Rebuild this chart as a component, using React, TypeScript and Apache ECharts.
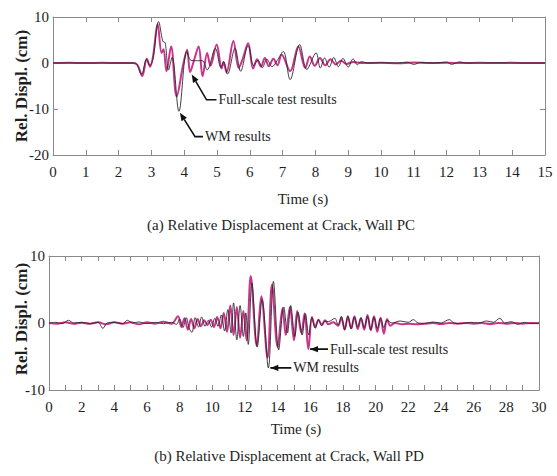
import React, { useEffect, useRef } from 'react';
import * as echarts from 'echarts';

// ---------- Data: (a) Wall PC, time (s) vs relative displacement (cm) ----------
const topWM: [number, number][] = [
  [0, 0], [0.5, 0], [1, 0], [1.5, 0], [2, 0], [2.45, 0], [2.55, -0.2], [2.7, -2.5], [2.85, 0.8], [2.95, -0.5],
  [3.05, 1.0], [3.22, 9.0], [3.35, 4.7], [3.42, 4.4], [3.52, -1.5], [3.63, 1.2], [3.84, -10.5], [4.08, 2.5],
  [4.2, 0.6], [4.35, 0.5], [4.55, 0.5], [4.7, -1.5], [4.95, 3.2], [5.12, -1.0], [5.2, 0.3], [5.32, -2.4],
  [5.55, 3.2], [5.72, -1.8], [5.95, 3.8], [6.12, -0.6], [6.25, 0.6], [6.38, -1.0], [6.52, 0.8], [6.68, -0.8],
  [6.83, 0.5], [7.02, 2.5], [7.23, -3.6], [7.52, 4.0], [7.74, -1.4], [8.02, 2.2], [8.15, -1.1], [8.28, 1.1],
  [8.42, -0.9], [8.56, 1.2], [8.7, -0.8], [8.84, 1.0], [9.0, -0.9], [9.15, 0.9], [9.28, -0.4], [9.4, 0.3],
  [9.6, 0], [10, 0.05], [10.5, 0], [10.8, 0.2], [11.0, -0.3], [11.2, 0.1], [11.6, 0], [12.0, 0.2],
  [12.15, -0.3], [12.4, 0.25], [12.6, 0], [13.0, 0], [13.5, 0.05], [14, 0], [14.5, 0], [15, 0],
];
const topTest: [number, number][] = [
  [0, 0], [0.5, 0.05], [1, 0], [1.5, 0.05], [2, 0], [2.45, 0], [2.58, -0.5], [2.72, -2.8], [2.86, 0.9],
  [2.96, -0.8], [3.05, 1.4], [3.19, 8.5], [3.31, 2.2], [3.37, 3.0], [3.46, -1.8], [3.6, 3.6], [3.77, -7.3],
  [3.97, -0.3], [4.09, 2.9], [4.18, -2.0], [4.3, 0.6], [4.44, 3.6], [4.56, -2.9], [4.7, 2.2], [4.8, -0.6],
  [4.99, 4.0], [5.14, -1.2], [5.2, 0.2], [5.29, -2.0], [5.5, 4.8], [5.66, -1.1], [5.78, 0.8], [5.95, 4.3],
  [6.1, -1.2], [6.22, 0.8], [6.34, -0.8], [6.46, 1.1], [6.58, -0.7], [6.72, 0.9], [6.84, -0.5], [6.97, 1.8],
  [7.23, -1.8], [7.48, 3.6], [7.69, -1.1], [7.83, 1.4], [7.98, -0.6], [8.14, 1.1], [8.3, -0.5], [8.46, 0.8],
  [8.62, -0.3], [8.78, 0.5], [8.95, -0.2], [9.15, 0.2], [9.4, 0], [10, 0.05], [10.5, -0.05], [11, 0.1],
  [11.5, 0], [12, 0.05], [12.5, 0], [13, 0.05], [13.5, 0], [14, 0.05], [14.5, 0], [15, 0],
];

// ---------- Data: (b) Wall PD ----------
const botWM: [number, number][] = [
  [0, 0], [0.4, 0.1], [0.8, -0.1], [1.2, 0.4], [1.5, 0], [2, 0.1], [2.5, -0.1], [3.0, 0.1], [3.3, -0.8],
  [3.55, 0], [4.0, 0.1], [4.5, -0.1], [4.8, 0.4], [5.1, 0], [5.5, 0.15], [6, -0.1], [6.5, 0.1], [7, -0.1],
  [7.5, 0.1], [7.8, -0.2], [8.0, 0.6], [8.2, -0.7], [8.4, 0.8], [8.6, -0.9], [8.75, -1.4], [8.95, 0.8],
  [9.15, -0.6], [9.35, 0.9], [9.55, -0.5], [9.75, 0.4], [9.95, -0.6], [10.15, 0.7], [10.35, -0.5], [10.55, 1.2],
  [10.75, -1.2], [10.95, 2.0], [11.15, -1.5], [11.3, 3.0], [11.5, -2.5], [11.7, 2.6], [11.9, -2.0], [12.05, 1.5],
  [12.2, -3.2], [12.42, 6.0], [12.75, -3.6], [13.05, 3.5], [13.43, -6.7], [13.74, 6.2], [14.06, -4.0],
  [14.37, 2.4], [14.6, -1.5], [14.8, 2.6], [15.05, -2.0], [15.25, 1.6], [15.5, -1.8], [15.7, 1.4], [15.9, -1.8],
  [16.1, 0.8], [16.3, -0.8], [16.5, 0.5], [16.7, -0.4], [16.9, 0.3], [17.1, 0.2], [17.5, 0.7], [17.7, -0.3],
  [17.9, 1.0], [18.1, -1.0], [18.3, 1.1], [18.5, -0.9], [18.7, 0.9], [18.9, -0.6], [19.1, 0.8], [19.3, -0.7],
  [19.5, 1.0], [19.7, -1.0], [19.9, 0.9], [20.1, -0.8], [20.3, 0.7], [20.5, -0.7], [20.7, 0.4], [21, 0],
  [21.5, 0.3], [22, 0.1], [22.3, 0.5], [22.6, 0], [23, -0.05], [23.5, 0.15], [24, 0], [24.5, 0.5], [24.8, 0],
  [25.3, -0.1], [25.8, 0.1], [26.3, 0], [26.8, 0.3], [27.2, 0.1], [27.6, 0.7], [27.9, 0], [28.3, 0.2],
  [28.7, -0.2], [29.1, 0.1], [29.5, -0.1], [30, 0],
];
const botTest: [number, number][] = [
  [0, 0], [0.5, -0.1], [1, 0.1], [1.5, -0.1], [2, 0.05], [2.5, -0.1], [3, 0.1], [3.5, -0.2], [4, 0.1],
  [4.5, -0.1], [5, 0.1], [5.5, -0.2], [6, 0.1], [6.5, -0.1], [7, 0.2], [7.5, -0.1], [7.9, 1.0], [8.1, -0.6],
  [8.3, 0.7], [8.5, -1.0], [8.7, 0.6], [8.9, -0.8], [9.1, 0.6], [9.3, -0.5], [9.5, 0.4], [9.7, -0.3], [9.9, 0.5],
  [10.1, -0.6], [10.3, 0.9], [10.5, -0.8], [10.7, 1.5], [10.9, -1.3], [11.1, 2.6], [11.3, -1.8], [11.5, 2.4],
  [11.7, -2.2], [11.9, 1.8], [12.1, -2.6], [12.35, 7.0], [12.72, -3.4], [13.0, 4.0], [13.38, -5.2], [13.65, 5.7],
  [14.0, -3.6], [14.3, 2.2], [14.5, -1.8], [14.75, 2.4], [15.0, -2.6], [15.2, 1.8], [15.45, -1.5], [15.65, 1.4],
  [15.88, -3.9], [16.1, 0.9], [16.3, -0.6], [16.5, 0.5], [16.7, -0.3], [16.9, 0.4], [17.1, -0.2], [17.4, 0.1],
  [17.7, -0.4], [17.9, 0.8], [18.1, -1.0], [18.3, 0.9], [18.5, -0.8], [18.7, 1.0], [18.9, -0.9], [19.1, 0.7],
  [19.3, -1.0], [19.5, 1.2], [19.7, -1.1], [19.9, 1.0], [20.1, -1.3], [20.3, 0.8], [20.5, -1.6], [20.7, 0.6],
  [20.9, -0.4], [21.2, 0], [21.6, -0.2], [22, -0.1], [22.5, -0.2], [23, -0.1], [23.5, 0], [24, -0.15],
  [24.5, 0], [25, -0.1], [25.5, 0], [26, -0.1], [26.5, 0], [27, -0.15], [27.5, 0], [28, -0.1], [28.5, 0],
  [29, -0.1], [29.5, 0], [30, -0.05],
];

const yTitle = 'Rel. Displ. (cm)';
const xTitle = 'Time (s)';
const captions = ['(a) Relative Displacement at Crack, Wall PC', '(b) Relative Displacement at Crack, Wall PD'];
const seriesNames = ['WM results', 'Full-scale test results'];

// annotation arrows: series index (for coordinates), arrow tip and elbow in data units
const notes = [
  { series: 1, tip: [4.23, -2.5], elbow: [4.68, -8.0], tail: 10, label: 'Full-scale test results' },
  { series: 0, tip: [3.87, -10.8], elbow: [4.33, -16.0], tail: 8, label: 'WM results' },
  { series: 3, tip: [15.98, -3.9], elbow: [15.98, -3.9], tail: 18, label: 'Full-scale test results' },
  { series: 2, tip: [13.55, -6.7], elbow: [13.55, -6.7], tail: 21, label: 'WM results' },
];

const FONT = "'Liberation Serif', 'Times New Roman', serif";
const FRAME = '#8a8a8a';
const TEXT = '#1e1e1e';
const WM_COLOR = '#2a2a2a';
const TEST_COLOR = '#c8348a';

function xAxes(grid: number, max: number, step: number, labelEvery: number) {
  const common = {
    gridIndex: grid, type: 'value' as const, min: 0, max, interval: step,
    splitLine: { show: false },
    axisLine: { show: true, onZero: false, lineStyle: { color: FRAME, width: 1 } },
    axisTick: { show: true, inside: true, length: 5, lineStyle: { color: FRAME, width: 1 } },
  };
  return [
    {
      ...common, position: 'bottom',
      axisLabel: {
        show: true, margin: 9, color: TEXT, fontSize: 15, fontFamily: FONT,
        formatter: (v: number) => (Math.round(v) % labelEvery === 0 ? String(v) : ''),
      },
    },
    { ...common, position: 'top', axisLabel: { show: false } },
  ];
}

function yAxes(grid: number, min: number, max: number) {
  const common = {
    gridIndex: grid, type: 'value' as const, min, max, interval: 10,
    splitLine: { show: false },
    axisLine: { show: true, onZero: false, lineStyle: { color: FRAME, width: 1 } },
    axisTick: { show: true, inside: true, length: 5, lineStyle: { color: FRAME, width: 1 } },
  };
  return [
    { ...common, position: 'left', axisLabel: { show: true, margin: 4, color: TEXT, fontSize: 15, fontFamily: FONT } },
    { ...common, position: 'right', axisLabel: { show: false } },
  ];
}

function lineSeries(name: string, data: [number, number][], axis: number, color: string, width: number, z: number) {
  return {
    name, type: 'line', data, xAxisIndex: axis, yAxisIndex: axis,
    showSymbol: false, symbol: 'none', smooth: 0.35, clip: true, z,
    lineStyle: { color, width },
  };
}

export default function App() {
  const ref = useRef<HTMLDivElement>(null);

  useEffect(() => {
    if (!ref.current) return;
    const chart = echarts.init(ref.current, undefined, { renderer: 'svg' });

    const option: any = {
      animation: false,
      backgroundColor: '#ffffff',
      grid: [
        { left: 53, right: 12, top: 17, height: 138 },
        { left: 49, right: 18, top: 256, height: 134 },
      ],
      xAxis: [...xAxes(0, 15, 1, 1), ...xAxes(1, 30, 1, 2)],
      yAxis: [...yAxes(0, -20, 10), ...yAxes(1, -10, 10)],
      series: [
        lineSeries(seriesNames[0], topWM, 0, WM_COLOR, 0.9, 3),
        lineSeries(seriesNames[1], topTest, 0, TEST_COLOR, 2, 2),
        lineSeries(seriesNames[0], botWM, 2, WM_COLOR, 0.9, 3),
        lineSeries(seriesNames[1], botTest, 2, TEST_COLOR, 2, 2),
      ],
    };
    chart.setOption(option);

    const textStyle = (size: number, bold = false) => ({ fill: TEXT, fontSize: size, fontFamily: FONT, fontWeight: bold ? 'bold' : 'normal' });

    const graphics: any[] = [
      { type: 'text', x: 21, y: 86, rotation: Math.PI / 2, style: { text: yTitle, ...textStyle(17, true), align: 'center', verticalAlign: 'middle' } },
      { type: 'text', x: 21, y: 319, rotation: Math.PI / 2, style: { text: yTitle, ...textStyle(17, true), align: 'center', verticalAlign: 'middle' } },
      { type: 'text', x: 303, y: 199, style: { text: xTitle, ...textStyle(15), align: 'center', verticalAlign: 'middle' } },
      { type: 'text', x: 296, y: 429, style: { text: xTitle, ...textStyle(15), align: 'center', verticalAlign: 'middle' } },
      { type: 'text', x: 281, y: 225, style: { text: captions[0], ...textStyle(15), align: 'center', verticalAlign: 'middle' } },
      { type: 'text', x: 289, y: 456, style: { text: captions[1], ...textStyle(15), align: 'center', verticalAlign: 'middle' } },
    ];

    notes.forEach((n) => {
      const tip = chart.convertToPixel({ seriesIndex: n.series }, n.tip) as number[];
      const elbow = chart.convertToPixel({ seriesIndex: n.series }, n.elbow) as number[];
      let dx = tip[0] - elbow[0];
      let dy = tip[1] - elbow[1];
      let len = Math.hypot(dx, dy);
      if (len < 1) { dx = -1; dy = 0; len = 1; }
      const ux = dx / len, uy = dy / len;
      const L = 8, W = 3.2;
      const bx = tip[0] - ux * L, by = tip[1] - uy * L;
      const nx = -uy, ny = ux;
      const tailEnd = [elbow[0] + n.tail, elbow[1]];
      graphics.push({
        type: 'polyline', shape: { points: [tailEnd, elbow, [bx, by]] },
        style: { stroke: '#111', lineWidth: 1.6, fill: null }, z: 10,
      });
      graphics.push({
        type: 'polygon', shape: { points: [tip, [bx + nx * W, by + ny * W], [bx - nx * W, by - ny * W]] },
        style: { fill: '#111' }, z: 10,
      });
      graphics.push({
        type: 'text', x: tailEnd[0] + 2, y: elbow[1],
        style: { text: n.label, ...textStyle(14), align: 'left', verticalAlign: 'middle' }, z: 10,
      });
    });

    chart.setOption({ graphic: graphics });

    return () => chart.dispose();
  }, []);

  return <div ref={ref} style={{ position: 'absolute', left: 0, top: 0, width: 557, height: 476, background: '#fff' }} />;
}
